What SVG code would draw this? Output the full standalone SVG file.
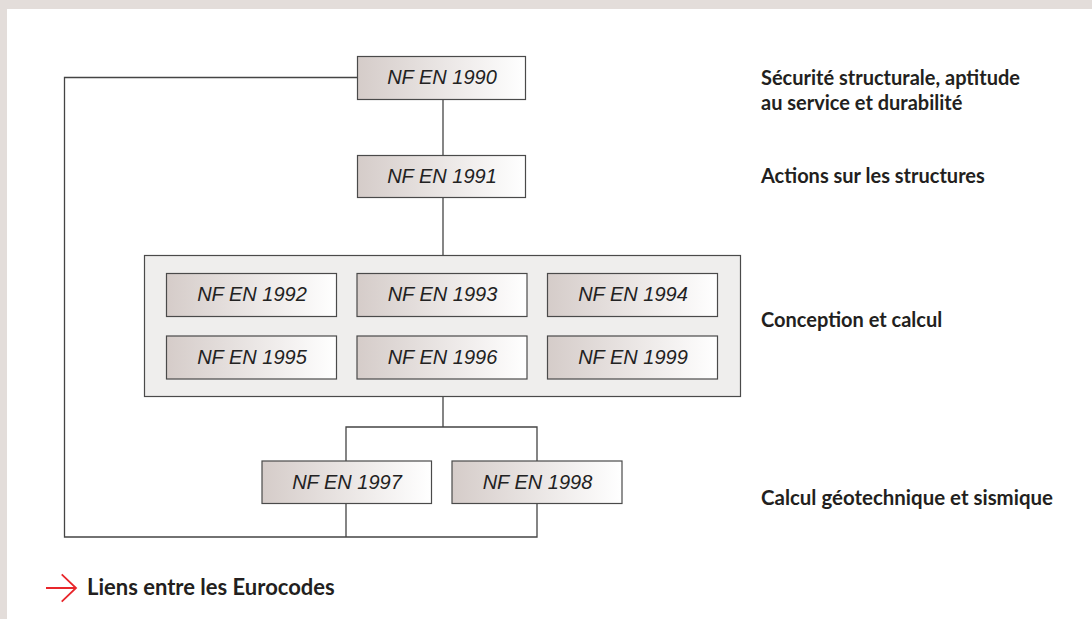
<svg xmlns="http://www.w3.org/2000/svg" width="1092" height="619" viewBox="0 0 1092 619">
<style>
.node rect{stroke:#4a4a4a;stroke-width:1.2}
.box{fill:url(#grad)}
.lbl{font-family:"Liberation Sans",Arial,sans-serif;font-style:italic;font-size:20px;fill:#222;text-anchor:middle}
.side{font-family:Lato,"Liberation Sans",sans-serif;font-weight:700;font-size:20px;fill:#231f20}
.conn{fill:none;stroke:#444;stroke-width:1.3}
</style>
<defs>
<linearGradient id="grad" x1="0" y1="0" x2="1" y2="0">
<stop offset="0" stop-color="#d5ccc9"/>
<stop offset="1" stop-color="#ffffff"/>
</linearGradient>
</defs>
<rect x="0" y="0" width="1092" height="619" fill="#e3ddda"/>
<rect x="7" y="9" width="1085" height="610" fill="#ffffff"/>

<g id="connectors">
<path class="conn" d="M443 99V155"/>
<path class="conn" d="M443 197V255"/>
<path class="conn" d="M443 397V427M346 461V427H537V461"/>
<path class="conn" d="M346 503V537M537 503V537H64.5V77.5H357"/>
</g>

<g id="group-conception" class="node">
<rect x="144.5" y="255.5" width="596" height="141" fill="#efeeed"/>
</g>

<g id="n1990" class="node"><rect class="box" x="357.5" y="56.5" width="168" height="43"/><text class="lbl" x="442" y="83.5">NF EN 1990</text></g>
<g id="n1991" class="node"><rect class="box" x="357.5" y="155.5" width="168" height="42"/><text class="lbl" x="442" y="182.5">NF EN 1991</text></g>
<g id="n1992" class="node"><rect class="box" x="166.5" y="273.5" width="170" height="43"/><text class="lbl" x="252" y="301">NF EN 1992</text></g>
<g id="n1993" class="node"><rect class="box" x="357" y="273.5" width="170" height="43"/><text class="lbl" x="442.5" y="301">NF EN 1993</text></g>
<g id="n1994" class="node"><rect class="box" x="547.5" y="273.5" width="170" height="43"/><text class="lbl" x="633" y="301">NF EN 1994</text></g>
<g id="n1995" class="node"><rect class="box" x="166.5" y="336" width="170" height="43"/><text class="lbl" x="252" y="363.5">NF EN 1995</text></g>
<g id="n1996" class="node"><rect class="box" x="357" y="336" width="170" height="43"/><text class="lbl" x="442.5" y="363.5">NF EN 1996</text></g>
<g id="n1999" class="node"><rect class="box" x="547.5" y="336" width="170" height="43"/><text class="lbl" x="633" y="363.5">NF EN 1999</text></g>
<g id="n1997" class="node"><rect class="box" x="262" y="461" width="169.5" height="42.5"/><text class="lbl" x="347" y="489">NF EN 1997</text></g>
<g id="n1998" class="node"><rect class="box" x="452" y="461" width="170" height="42.5"/><text class="lbl" x="537.5" y="489">NF EN 1998</text></g>

<g id="side-labels">
<text class="side" x="761" y="85">Sécurité structurale, aptitude</text>
<text class="side" x="761" y="110">au service et durabilité</text>
<text class="side" x="761" y="183">Actions sur les structures</text>
<text class="side" x="761" y="327">Conception et calcul</text>
<text class="side" x="761" y="505" textLength="292" lengthAdjust="spacingAndGlyphs">Calcul géotechnique et sismique</text>
</g>

<g id="legend">
<path d="M46 588H76M61.7 574.3L76 588L61.7 601.7" fill="none" stroke="#e8262b" stroke-width="1.8"/>
<text class="side" x="87" y="594.5" style="font-size:22px">Liens entre les Eurocodes</text>
</g>
</svg>
